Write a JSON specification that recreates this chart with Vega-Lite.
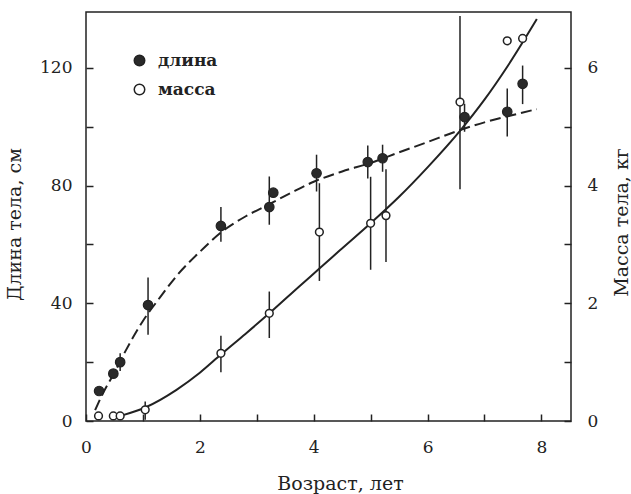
{
  "$schema": "https://vega.github.io/schema/vega-lite/v6.json",
  "autosize": "none",
  "width": 485,
  "height": 409,
  "padding": {"left": 86, "top": 12, "right": 60, "bottom": 73},
  "background": "white",
  "config": {
    "view": {"stroke": "#222", "strokeWidth": 1.5},
    "font": "DejaVu Serif",
    "axis": {
      "labelFont": "DejaVu Serif",
      "labelFontSize": 17,
      "labelColor": "#222",
      "titleFont": "DejaVu Serif",
      "titleFontSize": 19,
      "titleFontWeight": "normal",
      "titleColor": "#222",
      "tickColor": "#222",
      "tickWidth": 1.5,
      "tickSize": -7,
      "domain": false,
      "grid": false,
      "labelFlush": false,
      "labelOverlap": false
    }
  },
  "datasets": {
    "len_pts": [
      {"age": 0.23, "val": 10.2, "series": "длина"},
      {"age": 0.48, "val": 16.1, "series": "длина"},
      {"age": 0.60, "val": 20.0, "lo": 17.0, "hi": 23.0, "series": "длина"},
      {"age": 1.09, "val": 39.4, "lo": 29.3, "hi": 48.8, "series": "длина"},
      {"age": 2.37, "val": 66.3, "lo": 60.9, "hi": 72.7, "series": "длина"},
      {"age": 3.22, "val": 72.7, "lo": 66.7, "hi": 83.1, "series": "длина"},
      {"age": 3.29, "val": 77.6, "series": "длина"},
      {"age": 4.05, "val": 84.2, "lo": 78.0, "hi": 90.5, "series": "длина"},
      {"age": 4.95, "val": 88.0, "lo": 82.4, "hi": 93.6, "series": "длина"},
      {"age": 5.21, "val": 89.3, "lo": 84.7, "hi": 93.9, "series": "длина"},
      {"age": 6.65, "val": 103.3, "lo": 98.3, "hi": 107.8, "series": "длина"},
      {"age": 7.40, "val": 105.1, "lo": 96.7, "hi": 113.0, "series": "длина"},
      {"age": 7.67, "val": 114.6, "lo": 107.7, "hi": 120.8, "series": "длина"}
    ],
    "len_curve": [
      {"age": 0.16, "val": 3.7},
      {"age": 0.3, "val": 9.5},
      {"age": 0.5, "val": 16.5},
      {"age": 0.7, "val": 24.0},
      {"age": 1.0, "val": 34.0},
      {"age": 1.3, "val": 42.0},
      {"age": 1.6, "val": 49.5},
      {"age": 2.0, "val": 57.5},
      {"age": 2.4, "val": 64.5},
      {"age": 2.8, "val": 69.5},
      {"age": 3.2, "val": 73.5},
      {"age": 3.6, "val": 77.5},
      {"age": 4.0, "val": 81.3},
      {"age": 4.5, "val": 84.8},
      {"age": 5.0, "val": 87.7},
      {"age": 5.5, "val": 91.3},
      {"age": 6.0, "val": 94.8},
      {"age": 6.5, "val": 98.4},
      {"age": 7.0, "val": 101.5},
      {"age": 7.5, "val": 104.0},
      {"age": 7.92, "val": 106.0}
    ],
    "mass_pts": [
      {"age": 0.22, "val": 0.085, "series": "масса"},
      {"age": 0.48, "val": 0.085, "series": "масса"},
      {"age": 0.60, "val": 0.085, "series": "масса"},
      {"age": 1.04, "val": 0.19, "lo": 0.02, "hi": 0.33, "series": "масса"},
      {"age": 2.37, "val": 1.15, "lo": 0.83, "hi": 1.45, "series": "масса"},
      {"age": 3.22, "val": 1.83, "lo": 1.41, "hi": 2.2, "series": "масса"},
      {"age": 4.10, "val": 3.21, "lo": 2.38, "hi": 4.04, "series": "масса"},
      {"age": 5.00, "val": 3.36, "lo": 2.57, "hi": 4.15, "series": "масса"},
      {"age": 5.27, "val": 3.49, "lo": 2.70, "hi": 4.28, "series": "масса"},
      {"age": 6.57, "val": 5.42, "lo": 3.94, "hi": 6.88, "series": "масса"},
      {"age": 7.40, "val": 6.46, "series": "масса"},
      {"age": 7.67, "val": 6.50, "series": "масса"}
    ],
    "mass_curve": [
      {"age": 0.65, "val": 0.1},
      {"age": 1.04, "val": 0.23},
      {"age": 1.59, "val": 0.53},
      {"age": 2.0, "val": 0.82},
      {"age": 2.37, "val": 1.13},
      {"age": 2.8, "val": 1.48},
      {"age": 3.22, "val": 1.83},
      {"age": 3.76, "val": 2.3},
      {"age": 4.1, "val": 2.59},
      {"age": 4.46, "val": 2.9},
      {"age": 5.0, "val": 3.36},
      {"age": 5.5, "val": 3.81},
      {"age": 6.0, "val": 4.31},
      {"age": 6.57, "val": 4.93},
      {"age": 7.0, "val": 5.46},
      {"age": 7.4, "val": 6.02},
      {"age": 7.92, "val": 6.83}
    ]
  },
  "encoding": {
    "x": {
      "field": "age",
      "type": "quantitative",
      "scale": {"domain": [0, 8.52], "nice": false, "zero": false},
      "axis": {
        "values": [0, 1, 2, 3, 4, 5, 6, 7, 8],
        "labelExpr": "datum.value % 2 == 0 ? datum.label : ''",
        "labelPadding": 25,
        "title": "Возраст, лет",
        "titleX": 254,
        "titleY": 62,
        "titleBaseline": "middle"
      }
    }
  },
  "layer": [
    {
      "encoding": {
        "y": {
          "field": "val",
          "type": "quantitative",
          "scale": {"domain": [0, 139], "nice": false},
          "axis": {
            "orient": "left",
            "values": [0, 20, 40, 60, 80, 100, 120],
            "labelExpr": "datum.value % 40 == 0 ? datum.label : ''",
            "labelPadding": 21,
            "title": "Длина тела, см",
            "titleAngle": -90,
            "titleX": -72,
            "titleY": 212,
            "titleBaseline": "middle"
          }
        }
      },
      "layer": [
        {
          "data": {"name": "len_curve"},
          "mark": {"type": "line", "interpolate": "monotone", "stroke": "#222", "strokeWidth": 2, "strokeDash": [11, 5]}
        },
        {
          "data": {"name": "len_pts"},
          "transform": [{"filter": "datum.lo != null"}],
          "mark": {"type": "rule", "stroke": "#222", "strokeWidth": 1.5},
          "encoding": {"y": {"field": "lo", "type": "quantitative"}, "y2": {"field": "hi"}}
        },
        {
          "data": {"name": "len_pts"},
          "mark": {"type": "point", "shape": "circle", "filled": true, "stroke": "#222", "strokeWidth": 1.2, "size": 90, "opacity": 1},
          "encoding": {
            "fill": {
              "field": "series",
              "type": "nominal",
              "scale": {"domain": ["длина", "масса"], "range": ["#2a2a2a", "white"]},
              "legend": {
                "orient": "none",
                "legendX": 45,
                "legendY": 40,
                "title": null,
                "padding": 0,
                "labelFont": "DejaVu Serif",
                "labelFontSize": 17,
                "labelFontWeight": "bold",
                "labelColor": "#222",
                "symbolType": "circle",
                "symbolSize": 110,
                "symbolStrokeColor": "#222",
                "symbolStrokeWidth": 1.5,
                "rowPadding": 11,
                "labelOffset": 10
              }
            }
          }
        }
      ]
    },
    {
      "encoding": {
        "y": {
          "field": "val",
          "type": "quantitative",
          "scale": {"domain": [0, 6.95], "nice": false},
          "axis": {
            "orient": "right",
            "values": [0, 1, 2, 3, 4, 5, 6],
            "labelExpr": "datum.value % 2 == 0 ? datum.label : ''",
            "labelPadding": 23,
            "title": "Масса тела, кг",
            "titleAngle": -90,
            "titleX": 50,
            "titleY": 210,
            "titleBaseline": "middle"
          }
        }
      },
      "layer": [
        {
          "data": {"name": "mass_curve"},
          "mark": {"type": "line", "interpolate": "monotone", "stroke": "#222", "strokeWidth": 2}
        },
        {
          "data": {"name": "mass_pts"},
          "transform": [{"filter": "datum.lo != null"}],
          "mark": {"type": "rule", "stroke": "#222", "strokeWidth": 1.5},
          "encoding": {"y": {"field": "lo", "type": "quantitative"}, "y2": {"field": "hi"}}
        },
        {
          "data": {"name": "mass_pts"},
          "mark": {"type": "point", "shape": "circle", "filled": true, "stroke": "#222", "strokeWidth": 1.5, "size": 60, "opacity": 1},
          "encoding": {
            "fill": {"field": "series", "type": "nominal"}
          }
        }
      ]
    }
  ],
  "resolve": {"scale": {"y": "independent"}, "axis": {"y": "independent"}}
}
